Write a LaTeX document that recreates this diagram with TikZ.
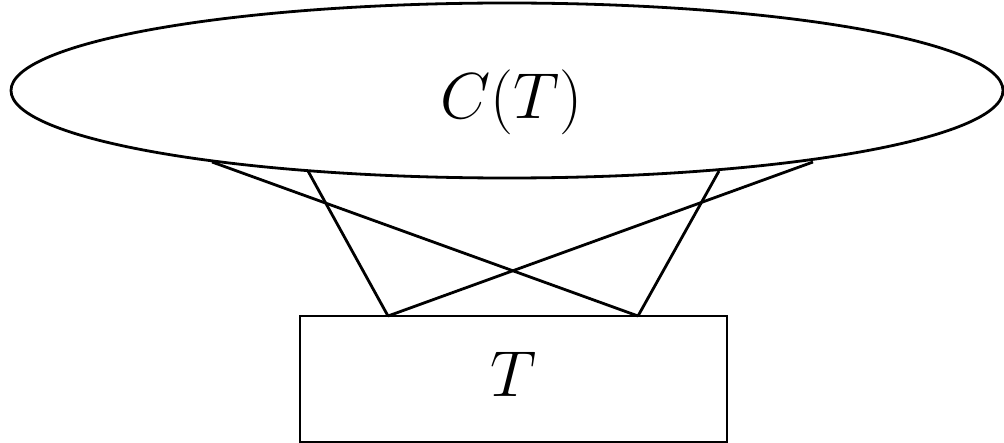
\documentclass[tikz,border=0pt]{standalone}
\usetikzlibrary{shapes.geometric}
\begin{document}
\begin{tikzpicture}[x=0.5pt,y=-0.5pt,line width=1.4pt,
  lbl/.style={font=\fontsize{24.88}{30}\selectfont, inner sep=0pt, scale=1.306},
  conn/.style={line width=1.4pt}]
\useasboundingbox (0,0) rectangle (1004,443);
\node[draw, ellipse, minimum width=496pt, minimum height=87.5pt, inner sep=0pt] (C) at (507,90.5) {};
\node[lbl] (Clbl) at (511.5,102.5) {$C(T)$};
\node[draw, rectangle, minimum width=213.5pt, minimum height=63pt, inner sep=0pt] (T) at (513.5,379) {};
\node[lbl] (Tlbl) at (514,374) {$T$};
\coordinate (e1) at (212,162);
\coordinate (e2) at (308,171);
\coordinate (e3) at (813,162);
\coordinate (e4) at (719,171);
\coordinate (t1) at (388,316);
\coordinate (t2) at (638,316);
\draw[conn] (e1) -- (t2);
\draw[conn] (e2) -- (t1);
\draw[conn] (e3) -- (t1);
\draw[conn] (e4) -- (t2);
\end{tikzpicture}
\end{document}
